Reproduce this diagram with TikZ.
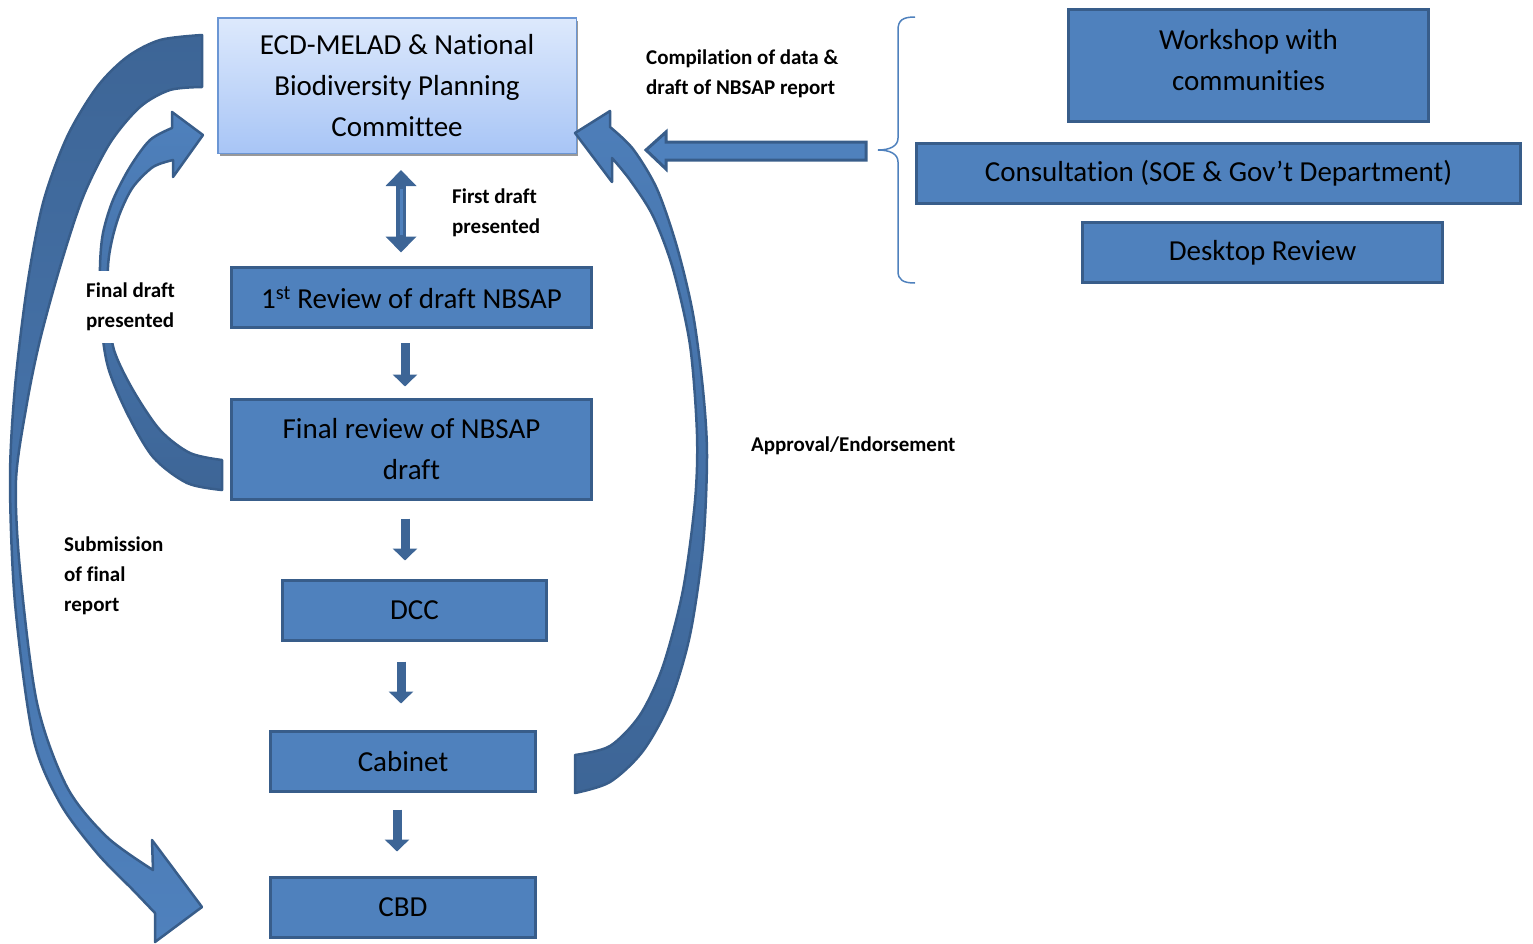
\documentclass[tikz,border=0pt]{standalone}
\usepackage{fontspec}
\setmainfont[Ligatures=NoCommon]{Carlito}
\usetikzlibrary{arrows.meta,calc,shadows}
\definecolor{boxfill}{HTML}{4F81BD}
\definecolor{boxline}{HTML}{385D8A}
\definecolor{arrdark}{HTML}{3D6596}
\definecolor{topA}{HTML}{DDE9FC}
\definecolor{topB}{HTML}{A8C5F6}
\definecolor{topline}{HTML}{6B96D4}
\begin{document}
\begin{tikzpicture}[x=1pt,y=-1pt,
  boxfont/.style={font=\fontsize{29}{41}\selectfont},
  stepbox/.style={draw=boxline, line width=3pt, fill=boxfill, inner sep=0pt, align=center,
    boxfont, text=black},
  lbl/.style={font=\bfseries\fontsize{21}{30}\selectfont, align=left, anchor=west, inner sep=0pt},
  curvarr/.style={draw=boxline, line width=2.5pt, line join=round},
  dnarr/.style={line width=9pt, color=arrdark, -{Triangle[width=24pt,length=12pt]}},
  dblarr/.style={line width=10pt, color=arrdark, {Triangle[width=30pt,length=16pt]}-{Triangle[width=30pt,length=16pt]}}]
\useasboundingbox (0,0) rectangle (1533,943);

% boxes
\node[draw=topline, line width=1.5pt, top color=topA, bottom color=topB, minimum width=358.5pt,
  minimum height=135.5pt, inner sep=0pt, align=center, boxfont,
  drop shadow={shadow xshift=2pt, shadow yshift=-3pt, fill=black!40, opacity=1}]
  (top) at (397,85.5) {ECD-MELAD \& National\\Biodiversity Planning\\Committee};
\node[stepbox, minimum width=360pt, minimum height=60pt] (rev1) at (411.5,297.5) {1\textsuperscript{st} Review of draft NBSAP};
\node[stepbox, minimum width=360pt, minimum height=100pt] (revF) at (411.5,449.5) {Final review of NBSAP\\draft};
\node[stepbox, minimum width=264pt, minimum height=60pt] (dcc) at (414.5,610.5) {DCC};
\node[stepbox, minimum width=265pt, minimum height=60pt] (cab) at (403,761.5) {Cabinet};
\node[stepbox, minimum width=265pt, minimum height=60pt] (cbd) at (403,907.5) {CBD};
\node[stepbox, minimum width=360pt, minimum height=112pt,
  label={[boxfont, align=center, yshift=5.5pt]center:{Workshop with\\communities}}] (work) at (1248.5,65.5) {};
\node[stepbox, minimum width=604pt, minimum height=60pt] (cons) at (1218.5,173.5) {Consultation (SOE \& Gov’t Department)};
\node[stepbox, minimum width=360pt, minimum height=60pt] (desk) at (1262.5,252.5) {Desktop Review};

% straight arrows
\draw[dnarr] ($(rev1.south)+(-6.5,14)$) -- ($(revF.north)+(-6.5,-11.5)$);
\draw[dnarr] ($(revF.south)+(-6.5,17.5)$) -- ($(dcc.north)+(-9.5,-18.5)$);
\draw[dnarr] ($(dcc.south)+(-13.5,19.5)$) -- ($(cab.north)+(-2,-26.5)$);
\draw[dnarr] ($(cab.south)+(-6,16.5)$) -- ($(cbd.north)+(-6,-24.5)$);
\draw[dblarr] ($(top.south)+(4,16)$) -- ($(rev1.north)+(-10.5,-13.5)$);
\draw[line width=3pt, boxfill] ($(top.south)+(4,35)$) -- ($(rev1.north)+(-10.5,-31)$);

% brace and horizontal arrow
\coordinate (brtip) at (878,150);
\draw[boxfill, line width=1.5pt] (915,17) .. controls (903,17) and (898,20) .. (898,30) -- (898,138)
  .. controls (898,146) and (890,150) .. (brtip) .. controls (890,150) and (898,154) .. (898,162)
  -- (898,271) .. controls (898,280) and (903,283) .. (915,283);
\draw[fill=boxfill, draw=boxline, line width=3pt, line join=miter]
  ($(brtip)+(-12,-8)$) -- (666,142) -- (666,132) -- ($(top.east)+(69,64.5)$) -- (666,169) -- (666,160)
  -- ($(brtip)+(-12,10)$) -- cycle;

% curved arrow: submission of final report
\draw[curvarr, top color=arrdark, middle color=arrdark!70!boxfill, bottom color=boxfill]
  plot[smooth] coordinates {(202,35) (160,40) (127,57) (97,87) (67,137) (43,203) (27,287) (15,387)
    (10,480) (15,603) (33,737) (60,803) (97,853) (133,890) (155,913)}
  -- (155,942) -- (202,907) -- (152,840) -- (153,870)
  -- plot[smooth] coordinates {(153,870) (107,837) (67,787) (37,703) (20,570) (16,480) (27,403)
    (40,340) (60,267) (83,197) (110,143) (140,107) (170,90) (202,87)}
  -- cycle;

% curved arrow: final draft presented
\draw[curvarr, top color=boxfill, bottom color=arrdark]
  plot[smooth] coordinates {(222,490) (187,483) (153,457) (127,413) (108,367) (101,320) (100,267)
    (103,233) (113,200) (130,167) (150,140) (172,128)}
  -- (172,112) -- (203,135) -- (173,177) -- (173,160)
  -- plot[smooth] coordinates {(173,160) (153,167) (133,187) (120,213) (112,240) (108,267) (109,310)
    (114,350) (133,390) (160,430) (190,453) (222,460)}
  -- cycle;

% curved arrow: approval/endorsement
\draw[curvarr, top color=boxfill!90!arrdark, bottom color=arrdark]
  plot[smooth] coordinates {(575,793) (610,782) (643,751) (670,702) (690,635) (703,546) (707,456)
    (703,390) (693,314) (677,247) (657,189) (633,149) (610,127)}
  -- (610,111) -- (575,133) -- (612,182) -- (612,158)
  -- plot[smooth] coordinates {(612,158) (630,180) (653,216) (673,269) (690,345) (697,434) (695,501)
    (683,590) (663,666) (640,715) (610,746) (575,755)}
  -- cycle;

% labels
\node[lbl] (lcomp) at (646,74) {Compilation of data \&\\draft of NBSAP report};
\node[lbl] (lfirst) at (452,213) {First draft\\presented};
\node[lbl, fill=white, inner xsep=4pt, inner ysep=12pt] (lfinal) at (82,307) {Final draft\\presented};
\node[lbl] (lsub) at (64,576) {Submission\\of final\\report};
\node[lbl] (lappr) at (751,446) {Approval/Endorsement};
\end{tikzpicture}
\end{document}
